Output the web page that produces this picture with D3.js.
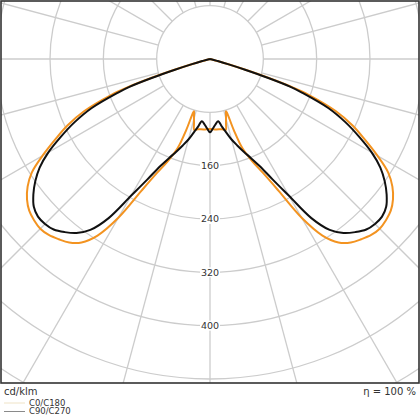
<!DOCTYPE html>
<html>
<head>
<meta charset="utf-8">
<script src="https://cdn.jsdelivr.net/npm/d3@7/dist/d3.min.js"></script>
<style>
html,body{margin:0;padding:0;background:#fff;}
svg{display:block;font-family:"DejaVu Sans",sans-serif;}
</style>
</head>
<body>
<svg id="chart" width="420" height="420"></svg>
<script>
// gamma angles (degrees from nadir) and luminous intensity (cd/klm)
const anglesC0 = [0, 5, 10, 12.5, 14, 15, 16, 17, 17.5, 18.5, 20, 22.5, 25, 27.5, 30, 32.5, 35, 37.5, 40, 42.5, 45, 47.5, 50, 52.5, 55, 57.5, 60, 62.5, 65, 67.5, 70, 71, 72, 73, 74, 75, 77.5, 80, 90, 120, 150, 180];
const valuesC0 = [105, 106, 107, 109, 99, 93, 87, 82, 84, 112, 143, 166, 189, 223, 275, 314, 336, 347, 353, 358, 360, 358, 354, 346, 334, 317, 290, 262, 236, 204, 158, 132, 96, 58, 30, 13, 3, 0, 0, 0, 0, 0];
const anglesC90 = [0, 2.5, 5, 7.5, 10, 12.5, 15, 17.5, 20, 22.5, 25, 27.5, 30, 32.5, 35, 37.5, 40, 42.5, 45, 47.5, 50, 52.5, 55, 57.5, 60, 62.5, 65, 67.5, 70, 71, 72, 73, 74, 75, 77.5, 80, 90, 120, 150, 180];
const valuesC90 = [110, 104, 98, 94, 103, 113, 125, 136, 148, 161, 178, 204, 237, 283, 313, 329, 339, 347, 350, 350, 345, 334, 320, 303, 280, 252, 224, 192, 146, 127, 92, 55, 28, 12, 3, 0, 0, 0, 0, 0];
const ringValues = [80, 160, 240, 320, 400, 480, 560];
const ringLabels = ["160", "240", "320", "400"];
const spokeAngles = d3.range(0, 360, 15);
const seriesNames = ["C0/C180", "C90/C270"];
const unitLabel = "cd/klm";
const effLabel = "η = 100 %";

const svg = d3.select("#chart");
const W = 420, frameH = 383;
const cx = 210, cy = 59;
const r = d3.scaleLinear().domain([0, 80]).range([0, 53.33]);

svg.append("rect").attr("width", 420).attr("height", 420).attr("fill", "#fff");
svg.append("defs").append("clipPath").attr("id", "clip")
  .append("rect").attr("x", 1).attr("y", 1).attr("width", W - 2).attr("height", frameH - 1);

const g = svg.append("g").attr("clip-path", "url(#clip)");
const grid = g.append("g").attr("transform", `translate(${cx},${cy})`);
const gridColor = "#cccccc";

grid.selectAll("circle.ring").data(ringValues).join("circle")
  .attr("class", "ring").attr("r", d => r(d))
  .attr("fill", "none").attr("stroke", gridColor).attr("stroke-width", 1.3);

grid.selectAll("line.spoke").data(spokeAngles).join("line")
  .attr("class", "spoke")
  .attr("x1", d => r(80) * Math.sin(d * Math.PI / 180))
  .attr("y1", d => r(80) * Math.cos(d * Math.PI / 180))
  .attr("x2", d => r(700) * Math.sin(d * Math.PI / 180))
  .attr("y2", d => r(700) * Math.cos(d * Math.PI / 180))
  .attr("stroke", gridColor).attr("stroke-width", 1.3);

// labels with white background
const lab = grid.selectAll("g.lab").data(ringLabels).join("g")
  .attr("class", "lab").attr("transform", d => `translate(0,${r(+d)})`);
lab.append("rect").attr("x", -10).attr("y", -5).attr("width", 20).attr("height", 10).attr("fill", "#fff");
lab.append("text").attr("text-anchor", "middle").attr("dy", "0.36em")
  .attr("font-size", 9.5).attr("fill", "#333").text(d => d);

function buildPoints(angles, values) {
  const pts = [];
  for (let i = angles.length - 1; i >= 0; i--) pts.push({a: Math.PI + angles[i] * Math.PI / 180, v: values[i]});
  for (let i = 1; i < angles.length; i++) pts.push({a: Math.PI - angles[i] * Math.PI / 180, v: values[i]});
  // drop consecutive points at the origin
  return pts.filter((p, i) => !(p.v === 0 && i > 0 && pts[i - 1].v === 0));
}

const line = d3.lineRadial().angle(d => d.a).radius(d => r(d.v)).curve(d3.curveCatmullRom.alpha(0.5));
const curves = g.append("g").attr("transform", `translate(${cx},${cy})`);
curves.append("path").datum(buildPoints(anglesC0, valuesC0))
  .attr("d", line).attr("fill", "none").attr("stroke", "#f39320").attr("stroke-width", 2).attr("stroke-linejoin", "round");
curves.append("path").datum(buildPoints(anglesC90, valuesC90))
  .attr("d", line).attr("fill", "none").attr("stroke", "#111").attr("stroke-width", 2).attr("stroke-linejoin", "round");

svg.append("rect").attr("x", 1).attr("y", 1).attr("width", W - 2).attr("height", frameH - 1)
  .attr("fill", "none").attr("stroke", "#333").attr("stroke-width", 1.6);

svg.append("text").attr("x", 4).attr("y", 395).attr("font-size", 10).attr("fill", "#333").text(unitLabel);
svg.append("text").attr("x", 416).attr("y", 395).attr("text-anchor", "end").attr("font-size", 10).attr("fill", "#333").text(effLabel);

const legColors = ["#efe3c6", "#8a8a8a"];
const leg = svg.selectAll("g.leg").data(seriesNames).join("g").attr("class", "leg")
  .attr("transform", (d, i) => `translate(0,${403 + i * 8.5})`);
leg.append("line").attr("x1", 4).attr("x2", 25).attr("y1", 0).attr("y2", 0)
  .attr("stroke", (d, i) => legColors[i]).attr("stroke-width", 1);
leg.append("text").attr("x", 29).attr("dy", "0.35em").attr("font-size", 8.5).attr("fill", "#333").text(d => d);
</script>
</body>
</html>
